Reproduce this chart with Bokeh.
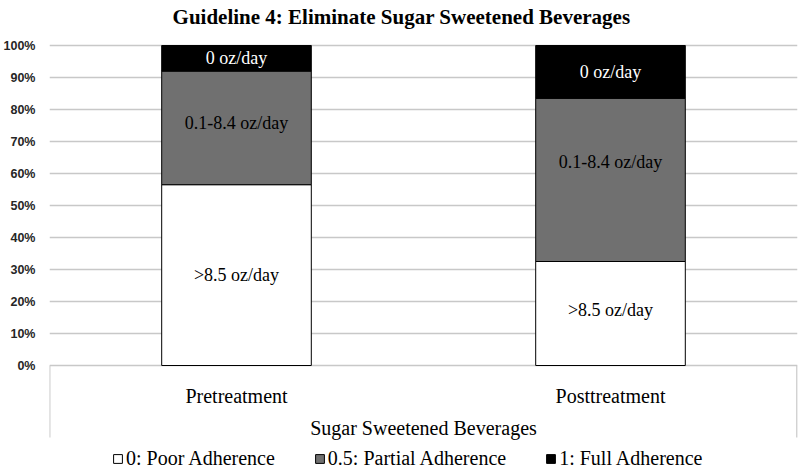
from bokeh.plotting import figure
from bokeh.models import (ColumnDataSource, FactorRange, Range1d, FixedTicker,
                          PrintfTickFormatter)
from bokeh.transform import dodge
from bokeh.core.properties import value
from bokeh.embed import file_html
from bokeh.resources import INLINE

# ---------------- data ----------------
title_text = "Guideline 4: Eliminate Sugar Sweetened Beverages"
categories = ["Pretreatment", "Posttreatment"]
group_label = "Sugar Sweetened Beverages"
series_names = ["0: Poor Adherence", "0.5: Partial Adherence", "1: Full Adherence"]
poor = [56.5, 32.5]
partial = [35.5, 51.0]
full = [8.0, 16.5]
poor_labels = [">8.5 oz/day", ">8.5 oz/day"]
partial_labels = ["0.1-8.4 oz/day", "0.1-8.4 oz/day"]
full_labels = ["0 oz/day", "0 oz/day"]
y_ticks = [0, 10, 20, 30, 40, 50, 60, 70, 80, 90, 100]

# ---------------- style ----------------
colors = ["#ffffff", "#707070", "#000000"]
label_colors = ["#000000", "#000000", "#ffffff"]
label_nudge = {"poor": [0, -4], "partial": [-5, -18], "full": [0, 0]}
SERIF_NAME = "'Liberation Serif', 'Times New Roman'"
SERIF = value(SERIF_NAME)

p = figure(width=800, height=470,
           x_range=FactorRange(*categories),
           y_range=Range1d(-32.8125, 114.0625),
           output_backend="svg", toolbar_location=None,
           min_border_left=49, min_border_right=3,
           min_border_top=0, min_border_bottom=0)
p.title.visible = False
p.outline_line_color = None
p.background_fill_color = "white"
p.border_fill_color = "white"

p.xaxis.visible = False
p.xgrid.visible = False

p.yaxis.ticker = FixedTicker(ticks=y_ticks)
p.yaxis.formatter = PrintfTickFormatter(format="%d%%")
p.yaxis.axis_line_color = None
p.yaxis.major_tick_line_color = None
p.yaxis.minor_tick_line_color = None
p.yaxis.major_tick_out = 0
p.yaxis.major_tick_in = 0
p.yaxis.major_label_standoff = 14
p.yaxis.major_label_text_font = "Liberation Sans"
p.yaxis.major_label_text_font_style = "bold"
p.yaxis.major_label_text_font_size = "12.5px"
p.yaxis.major_label_text_color = "#262626"
p.ygrid.ticker = FixedTicker(ticks=y_ticks)
p.ygrid.grid_line_color = "#c8c8c8"
p.ygrid.grid_line_width = 1.5

# ---------------- bars ----------------
src = ColumnDataSource(dict(cat=categories, poor=poor, partial=partial, full=full))
p.vbar_stack(["poor", "partial", "full"], x="cat", width=0.4, source=src,
             fill_color=colors, line_color="black", line_width=1,
             legend_label=series_names)

# ---------------- in-bar labels ----------------
lx, ly, lt, lc, lo = [], [], [], [], []
for i, c in enumerate(categories):
    bottoms = [0, poor[i], poor[i] + partial[i]]
    heights = [poor[i], partial[i], full[i]]
    texts = [poor_labels[i], partial_labels[i], full_labels[i]]
    keys = ["poor", "partial", "full"]
    for j in range(3):
        lx.append(c)
        ly.append(bottoms[j] + heights[j] / 2)
        lt.append(texts[j])
        lc.append(label_colors[j])
        lo.append(label_nudge[keys[j]][i])
lsrc = ColumnDataSource(dict(x=lx, y=ly, t=lt, c=lc, o=lo))
p.text(x="x", y="y", text="t", text_color="c", y_offset="o", source=lsrc,
       text_align="center", text_baseline="middle",
       text_font=SERIF, text_font_size="18px")

# ---------------- category axis (multi-level box) ----------------
csrc = ColumnDataSource(dict(x=categories, y=[-9.375] * len(categories)))
p.text(x="x", y="y", text="x", source=csrc, text_align="center",
       text_baseline="middle", text_font=SERIF,
       text_font_size="20px", text_color="#000000")

gsrc = ColumnDataSource(dict(x=[categories[0]], y=[-19.375], t=[group_label]))
p.text(x=dodge("x", 0.5, range=p.x_range), y="y", text="t", source=gsrc,
       text_align="center", text_baseline="middle", text_font=SERIF,
       text_font_size="20px", text_color="#000000")

esrc_l = ColumnDataSource(dict(x=[categories[0]], y0=[0], y1=[-22.5]))
esrc_r = ColumnDataSource(dict(x=[categories[-1]], y0=[0], y1=[-22.5]))
p.segment(x0=dodge("x", -0.4995, range=p.x_range), x1=dodge("x", -0.4995, range=p.x_range),
          y0="y0", y1="y1", source=esrc_l, line_color="#c8c8c8", line_width=1.5)
p.segment(x0=dodge("x", 0.4985, range=p.x_range), x1=dodge("x", 0.4985, range=p.x_range),
          y0="y0", y1="y1", source=esrc_r, line_color="#c8c8c8", line_width=1.5)

# ---------------- title ----------------
tsrc = ColumnDataSource(dict(x=[categories[0]], y=[109.0], t=[title_text]))
p.text(x=dodge("x", 0.5, range=p.x_range), y="y", text="t", source=tsrc,
       x_offset=-22, text_align="center", text_baseline="alphabetic",
       text_font=SERIF, text_font_style="bold",
       text_font_size="21px", text_color="#000000")

# ---------------- legend ----------------
lg = p.legend[0]
lg.orientation = "horizontal"
lg.location = (63, 0)
lg.border_line_color = None
lg.background_fill_color = None
lg.background_fill_alpha = 0
lg.padding = 0
lg.margin = 0
lg.spacing = 39
lg.glyph_width = 11
lg.glyph_height = 11
lg.label_standoff = 3
lg.label_height = 20
lg.label_text_font = SERIF_NAME
lg.label_text_font_size = "20px"
lg.label_text_color = "#000000"

open("out.html", "w").write(file_html(p, INLINE))
